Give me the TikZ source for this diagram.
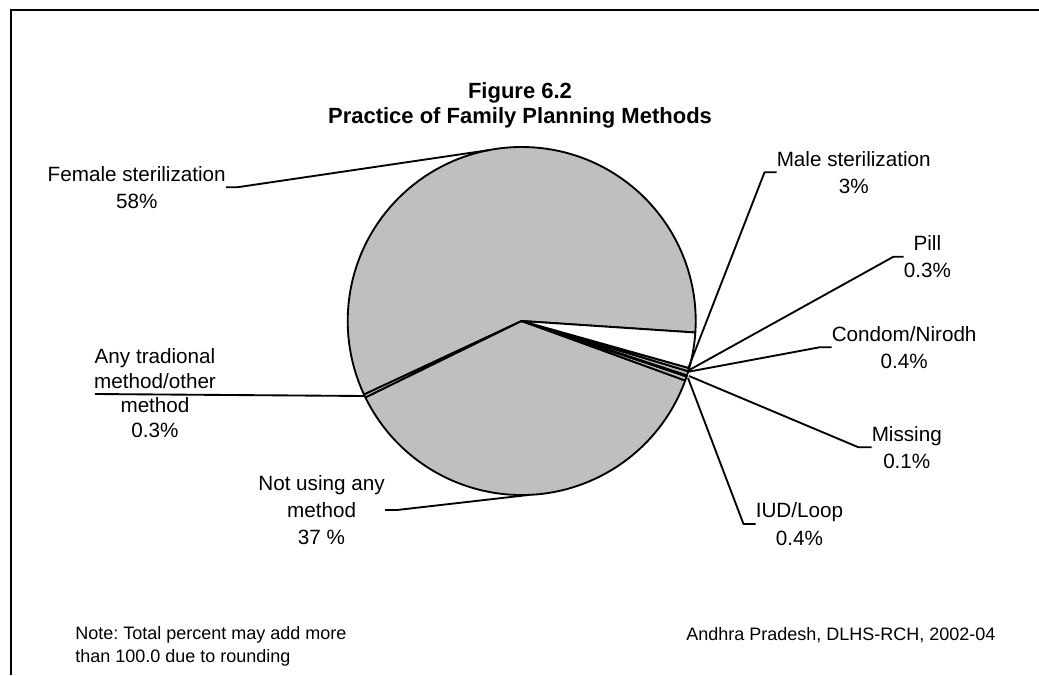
\documentclass[tikz,border=0pt]{standalone}
\usepackage{fontspec}
\setmainfont{Liberation Sans}
\frenchspacing
\begin{document}
\begin{tikzpicture}[x=0.75pt,y=0.75pt,
  lbl/.style={inner sep=0pt,align=center,font=\fontsize{15.5}{20.5}\selectfont},
  note/.style={inner sep=0pt,align=left,font=\fontsize{13.5}{17.5}\selectfont},
  ttl/.style={inner sep=0pt,align=center,font=\fontsize{16.5}{19}\selectfont\bfseries},
  slice/.style={draw=black,line width=1.4pt,line join=round},
  lead/.style={draw=black,line width=1.4pt,line join=round}]
\useasboundingbox (0,0) rectangle (1039,-675);
% frame
\draw[line width=1.4pt] (11,-675) -- (11,-10) -- (1039,-10);
% title
\node[ttl] (title) at (520,-105.5) {Figure 6.2\\Practice of Family Planning Methods};
% pie
\coordinate (C) at (521.7,-321);
\def\R{174}
\filldraw[slice,fill=black!25] (C) -- +(-3.8:\R) arc[start angle=-3.8,end angle=205.0,radius=\R] -- cycle;
\filldraw[slice,fill=black!25] (C) -- +(205.0:\R) arc[start angle=205.0,end angle=206.1,radius=\R] -- cycle;
\filldraw[slice,fill=black!25] (C) -- +(206.1:\R) arc[start angle=206.1,end angle=340.0,radius=\R] -- cycle;
\filldraw[slice,fill=black!25] (C) -- +(340.0:\R) arc[start angle=340.0,end angle=341.4,radius=\R] -- cycle;
\filldraw[slice,fill=black!25] (C) -- +(341.4:\R) arc[start angle=341.4,end angle=341.8,radius=\R] -- cycle;
\filldraw[slice,fill=black!25] (C) -- +(341.8:\R) arc[start angle=341.8,end angle=343.2,radius=\R] -- cycle;
\filldraw[slice,fill=black!25] (C) -- +(343.2:\R) arc[start angle=343.2,end angle=344.3,radius=\R] -- cycle;
\filldraw[slice,fill=white] (C) -- +(344.3:\R) arc[start angle=344.3,end angle=356.2,radius=\R] -- cycle;
% leader end points
\coordinate (pF) at (489.7,-150);
\coordinate (pT) at (364.7,-396);
\coordinate (pNU) at (529.9,-494.8);
\coordinate (pM) at (688,-369);
\coordinate (pP) at (687.5,-371);
\coordinate (pC) at (687,-372);
\coordinate (pMi) at (689,-376);
\coordinate (pI) at (688,-378);
% labels
\node[lbl,anchor=east] (fem) at (226,-187.3) {Female sterilization\\58\%};
\node[lbl,anchor=west] (male) at (776.5,-172.3) {Male sterilization\\3\%};
\node[lbl,anchor=west] (pill) at (903.5,-256.7) {Pill\\0.3\%};
\node[lbl,anchor=west] (cond) at (831.5,-347.3) {Condom/Nirodh\\0.4\%};
\node[lbl,anchor=west] (miss) at (871.5,-447.3) {Missing\\0.1\%};
\node[lbl,anchor=west] (iud) at (755.5,-524) {IUD/Loop\\0.4\%};
\node[lbl,font=\fontsize{15.5}{18.5}\selectfont] (trad) at (155,-393) {Any tradional\\method/other\\method\\0.3\%};
\node[lbl,anchor=east] (nu) at (385,-510) {Not using any\\method\\37 \%};
% leaders
\draw[lead] (fem.east) -- ++(11,0) -- (pF);
\draw[lead] (male.west) -- ++(-12,0) -- (pM);
\draw[lead] (pill.west) -- ++(-10,0) -- (pP);
\draw[lead] (cond.west) -- ++(-12,0) -- (pC);
\draw[lead] (miss.west) -- ++(-13,0) -- (pMi);
\draw[lead] (iud.west) -- ++(-12,0) -- (pI);
\coordinate (tS) at (95,-394);
\draw[lead] (tS) -- (pT);
\draw[lead] (nu.east) -- ++(12,0) -- (pNU);
% notes
\node[note,anchor=west] (n1) at (75,-646.5) {Note: Total percent may add more\\than 100.0 due to rounding};
\node[note,anchor=west] (n2) at (686,-635) {Andhra Pradesh, DLHS-RCH, 2002-04};
\end{tikzpicture}
\end{document}
